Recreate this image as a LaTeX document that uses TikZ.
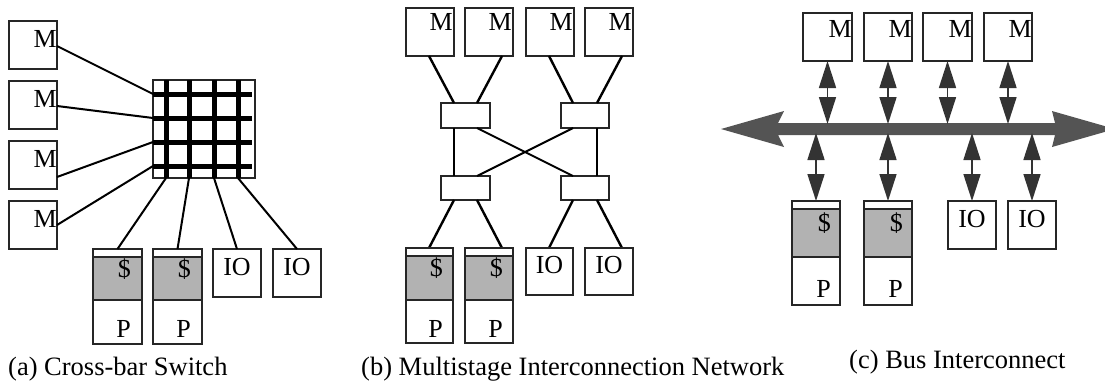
\documentclass[tikz,border=0pt]{standalone}
\usepackage{fontspec}
\setmainfont{Liberation Serif}
\usetikzlibrary{arrows.meta,calc}
\begin{document}
\begin{tikzpicture}[x=1pt,y=-1pt,
  box/.style={draw=black!85, line width=1.1pt, inner sep=0pt, outer sep=0pt, anchor=north west, fill=white},
  cache/.style={box, fill=black!30},
  sq/.style={box, minimum width=48pt, minimum height=48pt},
  lbl/.style={inner sep=0pt, font=\fontsize{26}{30}\selectfont},
  captxt/.style={inner sep=0pt, anchor=base west, font=\fontsize{26.5}{30}\selectfont},
  wire/.style={line width=2pt},
  wireb/.style={line width=2.4pt},
  xbarline/.style={line width=5pt},
  sw/.style={box, line width=2.6pt},
  dar/.style={{Triangle[width=17pt,length=27pt]}-{Triangle[width=17pt,length=27pt]}, line width=1.6pt, draw=black!80, fill=black},
  busfill/.style={fill=black!67}
]
\useasboundingbox (0,0) rectangle (1105,381);

% ---------------- (a) Cross-bar switch ----------------
\node[sq] (ma1) at (9,21) {};
\node[sq] (ma2) at (9,81) {};
\node[sq] (ma3) at (9,141) {};
\node[sq] (ma4) at (9,201) {};
\node[lbl, anchor=base east] (lma1) at (57,47) {M};
\node[lbl, anchor=base east] (lma2) at (57,107) {M};
\node[lbl, anchor=base east] (lma3) at (57,167) {M};
\node[lbl, anchor=base east] (lma4) at (57,227) {M};

\node[box, minimum width=102pt, minimum height=98pt] (xb) at (153,80) {};
\foreach \y in {94,118,142,166} \draw[xbarline] (153,\y) -- (252,\y);
\foreach \x in {166,189,214,238} \draw[xbarline] (\x,80) -- (\x,178);

\coordinate (xl1) at (153,94);
\coordinate (xl2) at (153,118);
\coordinate (xl3) at (153,142);
\coordinate (xl4) at (153,166);
\coordinate (xb1) at (166,178);
\coordinate (xb2) at (189,178);
\coordinate (xb3) at (214,178);
\coordinate (xb4) at (238,178);
\coordinate (ma1p) at (57,46);
\coordinate (ma2p) at (57,106);
\coordinate (ma3p) at (57,177);
\coordinate (ma4p) at (57,225);
\draw[wire] (ma1p) -- (xl1);
\draw[wire] (ma2p) -- (xl2);
\draw[wire] (ma3p) -- (xl3);
\draw[wire] (ma4p) -- (xl4);

\node[box, minimum width=49pt, minimum height=95pt] (pa1) at (93,249) {};
\node[cache, minimum width=49pt, minimum height=43pt] (ca1) at (93,257) {};
\node[box, minimum width=49pt, minimum height=95pt] (pa2) at (153,249) {};
\node[cache, minimum width=49pt, minimum height=43pt] (ca2) at (153,257) {};
\node[lbl, anchor=base east] (lca1) at (131,277) {\$};
\node[lbl, anchor=base east] (lpa1) at (131,337) {P};
\node[lbl, anchor=base east] (lca2) at (191,277) {\$};
\node[lbl, anchor=base east] (lpa2) at (191,337) {P};
\node[sq] (ioa1) at (213,249) {};
\node[sq] (ioa2) at (273,249) {};
\node[lbl, anchor=base] (lioa1) at (237,275) {IO};
\node[lbl, anchor=base] (lioa2) at (297,275) {IO};
\draw[wire] (xb1) -- (pa1.north);
\draw[wire] (xb2) -- (pa2.north);
\draw[wire] (xb3) -- (ioa1.north);
\draw[wire] (xb4) -- (ioa2.north);

\node[captxt] (capa) at (8,375) {(a) Cross-bar Switch};

% ---------------- (b) Multistage network ----------------
\node[sq] (mb1) at (406,8) {};
\node[sq] (mb2) at (465,8) {};
\node[sq] (mb3) at (526,8) {};
\node[sq] (mb4) at (585,8) {};
\node[lbl, anchor=base east] (lmb1) at (453,30) {M};
\node[lbl, anchor=base east] (lmb2) at (512,30) {M};
\node[lbl, anchor=base east] (lmb3) at (573,30) {M};
\node[lbl, anchor=base east] (lmb4) at (632,30) {M};

\node[sw, minimum width=49pt, minimum height=25pt] (s1) at (441,103) {};
\node[sw, minimum width=48pt, minimum height=25pt] (s2) at (561,103) {};
\node[sw, minimum width=49pt, minimum height=24pt] (s3) at (441,176) {};
\node[sw, minimum width=48pt, minimum height=24pt] (s4) at (561,176) {};

\coordinate (mb1p) at (429,56);
\coordinate (mb2p) at (502,56);
\coordinate (mb3p) at (549,56);
\coordinate (mb4p) at (622,56);
\coordinate (s1a) at (454,103);
\coordinate (s1b) at (477,103);
\coordinate (s2a) at (573,103);
\coordinate (s2b) at (597,103);
\coordinate (s1c) at (454,128);
\coordinate (s1d) at (477,128);
\coordinate (s2c) at (573,128);
\coordinate (s2d) at (597,128);
\coordinate (s3a) at (454,176);
\coordinate (s3b) at (477,176);
\coordinate (s4a) at (573,176);
\coordinate (s4b) at (597,176);
\coordinate (s3c) at (454,200);
\coordinate (s3d) at (477,200);
\coordinate (s4c) at (573,200);
\coordinate (s4d) at (597,200);
\coordinate (pb1p) at (429,248);
\coordinate (pb2p) at (502,248);
\coordinate (iob1p) at (549,248);
\coordinate (iob2p) at (622,248);

\draw[wireb] (mb1p) -- (s1a);
\draw[wireb] (mb2p) -- (s1b);
\draw[wireb] (mb3p) -- (s2a);
\draw[wireb] (mb4p) -- (s2b);
\draw[wireb] (s1c) -- (s3a);
\draw[wireb] (s2d) -- (s4b);
\draw[wire] (s1d) -- (s4a);
\draw[wire] (s2c) -- (s3b);
\draw[wireb] (s3c) -- (pb1p);
\draw[wireb] (s3d) -- (pb2p);
\draw[wireb] (s4c) -- (iob1p);
\draw[wireb] (s4d) -- (iob2p);

\node[box, minimum width=47pt, minimum height=95pt] (pb1) at (406,248) {};
\node[cache, minimum width=47pt, minimum height=44pt] (cb1) at (406,256) {};
\node[box, minimum width=48pt, minimum height=95pt] (pb2) at (465,248) {};
\node[cache, minimum width=48pt, minimum height=44pt] (cb2) at (465,256) {};
\node[lbl, anchor=base east] (lcb1) at (443,276) {\$};
\node[lbl, anchor=base east] (lpb1) at (443,337) {P};
\node[lbl, anchor=base east] (lcb2) at (503,276) {\$};
\node[lbl, anchor=base east] (lpb2) at (503,337) {P};
\node[box, minimum width=47pt, minimum height=47pt] (iob1) at (526,248) {};
\node[box, minimum width=48pt, minimum height=47pt] (iob2) at (585,248) {};
\node[lbl, anchor=base] (liob1) at (549.5,273) {IO};
\node[lbl, anchor=base] (liob2) at (609,273) {IO};

\node[captxt] (capb) at (361,375) {(b) Multistage Interconnection Network};

% ---------------- (c) Bus interconnect ----------------
\node[box, minimum width=49pt, minimum height=48pt] (mc1) at (803,13) {};
\node[sq] (mc2) at (864,13) {};
\node[box, minimum width=49pt, minimum height=48pt] (mc3) at (923,13) {};
\node[sq] (mc4) at (984,13) {};
\node[lbl, anchor=base east] (lmc1) at (852,37) {M};
\node[lbl, anchor=base east] (lmc2) at (912,37) {M};
\node[lbl, anchor=base east] (lmc3) at (972,37) {M};
\node[lbl, anchor=base east] (lmc4) at (1032,37) {M};

\path[busfill] (721,129) -- (784,111) -- (778,123) -- (1055,123) -- (1052,111)
  -- (1115,129) -- (1052,147) -- (1055,135) -- (778,135) -- (784,147) -- cycle;

\coordinate (bt1) at (827.5,124);
\coordinate (bt2) at (888,124);
\coordinate (bt3) at (947.5,124);
\coordinate (bt4) at (1008,124);
\coordinate (bb1) at (816,133);
\coordinate (bb2) at (888,133);
\coordinate (bb3) at (972,133);
\coordinate (bb4) at (1032,133);

\node[box, minimum width=48pt, minimum height=104pt] (pc1) at (792,201) {};
\node[cache, minimum width=48pt, minimum height=48pt] (cc1) at (792,209) {};
\node[box, minimum width=48pt, minimum height=104pt] (pc2) at (864,201) {};
\node[cache, minimum width=48pt, minimum height=48pt] (cc2) at (864,209) {};
\node[lbl, anchor=base east] (lcc1) at (831,231) {\$};
\node[lbl, anchor=base east] (lpc1) at (831,297) {P};
\node[lbl, anchor=base east] (lcc2) at (903,231) {\$};
\node[lbl, anchor=base east] (lpc2) at (903,297) {P};
\node[sq] (ioc1) at (948,201) {};
\node[sq] (ioc2) at (1008,201) {};
\node[lbl, anchor=base] (lioc1) at (972,227) {IO};
\node[lbl, anchor=base] (lioc2) at (1032,227) {IO};

\draw[dar] (mc1.south) -- (bt1);
\draw[dar] (mc2.south) -- (bt2);
\draw[dar] (mc3.south) -- (bt3);
\draw[dar] (mc4.south) -- (bt4);
\draw[dar] (bb1) -- (pc1.north);
\draw[dar] (bb2) -- (pc2.north);
\draw[dar] (bb3) -- (ioc1.north);
\draw[dar] (bb4) -- (ioc2.north);

\node[captxt] (capc) at (849,368) {(c) Bus Interconnect};
\end{tikzpicture}
\end{document}
